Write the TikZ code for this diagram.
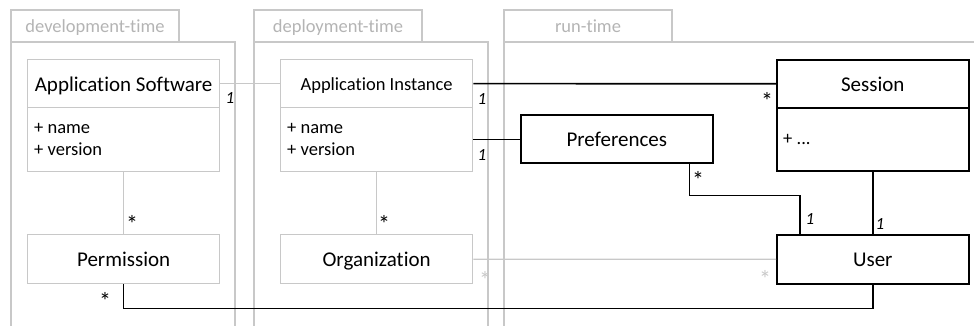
\documentclass[tikz,border=0pt]{standalone}
\usepackage{fontspec}
\setmainfont[Ligatures={NoCommon}]{Carlito}
\definecolor{lg}{HTML}{C8C8C8}
\definecolor{lt}{HTML}{B4B4B4}
\begin{document}
\begin{tikzpicture}[x=1pt,y=-1pt,
  pkg/.style={draw=lg, line width=1.3pt},
  gbox/.style={draw=lg, line width=1.3pt, rectangle, inner sep=0pt, anchor=north west, fill=white},
  bbox/.style={draw=black, line width=1.6pt, rectangle, inner sep=0pt, anchor=north west, fill=white},
  big/.style={font=\fontsize{21}{25}\selectfont, text height=17pt, text depth=2pt},
  small/.style={font=\fontsize{18.5}{22}\selectfont, text height=15pt, text depth=2pt},
  lbl/.style={font=\fontsize{18.5}{22}\selectfont, text=lt, anchor=base, inner sep=0pt},
  attr/.style={font=\fontsize{18.5}{22.5}\selectfont, anchor=base west, inner sep=0pt},
  gline/.style={draw=lg, line width=1.3pt},
  bline/.style={draw=black, line width=1.6pt},
  mult/.style={font=\fontsize{17}{18}\selectfont\itshape, inner sep=0pt},
  star/.style={font=\fontsize{24}{24}\selectfont, inner sep=0pt},
  gstar/.style={font=\fontsize{24}{24}\selectfont, inner sep=0pt, text=lg}
]
\useasboundingbox (0,0) rectangle (974,326);
% packages
\draw[pkg] (11,326) -- (11,10) -- (179,10) -- (179,42);
\draw[pkg] (11,42) -- (235,42) -- (235,326);
\node[lbl] (pdev) at (95,33) {development-time};
\draw[pkg] (254,326) -- (254,10) -- (422,10) -- (422,42);
\draw[pkg] (254,42) -- (488,42) -- (488,326);
\node[lbl] (pdep) at (338,33) {deployment-time};
\draw[pkg] (504,326) -- (504,10) -- (672,10) -- (672,42);
\draw[pkg] (504,42) -- (975,42);
\node[lbl] (prun) at (588,33) {run-time};
% classes
\node[gbox, big, minimum width=192, minimum height=48] (asH) at (27,59) {Application Software};
\node[gbox, minimum width=192, minimum height=64] (asB) at (27,107) {};
\node[attr] (asN) at (34,133) {+ name};
\node[attr] (asV) at (34,156) {+ version};
\node[gbox, small, minimum width=192, minimum height=48] (aiH) at (280,59) {Application Instance};
\node[gbox, minimum width=192, minimum height=64] (aiB) at (280,107) {};
\node[attr] (aiN) at (287,133) {+ name};
\node[attr] (aiV) at (287,156) {+ version};
\node[bbox, big, minimum width=192, minimum height=48] (pref) at (520,114) {Preferences};
\node[bbox, big, minimum width=192, minimum height=48] (sesH) at (776,59) {Session};
\node[bbox, minimum width=192, minimum height=63] (sesB) at (776,107) {};
\node[attr] (sesA) at (783,145) {+ ...};
\node[gbox, big, minimum width=192, minimum height=49] (perm) at (27,234) {Permission};
\node[gbox, big, minimum width=192, minimum height=49] (org) at (280,234) {Organization};
\node[bbox, big, minimum width=192, minimum height=49] (user) at (776,234) {User};
% connectors
\draw[gline] (asH.east) -- (aiH.west);
\draw[bline] (aiH.east) -- (sesH.west);
\draw[bline] (aiB.east) -- (aiB.east -| pref.west);
\draw[bline] ([xshift=-24pt]pref.south east) -- ++(0,32) -| ([xshift=24pt]user.north west);
\draw[bline] (sesB.south) -- (user.north);
\draw[gline] (asB.south) -- (perm.north);
\draw[gline] (aiB.south) -- (org.north);
\draw[gline] (org.east) -- (user.west);
\draw[bline] (perm.south) -- ++(0,24) -| (user.south);
% multiplicities
\node[mult] (m1) at (230,98) {1};
\node[mult] (m2) at (482,99) {1};
\node[mult] (m3) at (482,155) {1};
\node[star] (m4) at (767,101) {*};
\node[star] (m5) at (698,180) {*};
\node[mult] (m6) at (810,219) {1};
\node[mult] (m7) at (880,224) {1};
\node[star] (m8) at (132,224) {*};
\node[star] (m9) at (384,224) {*};
\node[gstar] (m10) at (485,280) {*};
\node[gstar] (m11) at (765,279) {*};
\node[star] (m12) at (105,301) {*};
\end{tikzpicture}
\end{document}
